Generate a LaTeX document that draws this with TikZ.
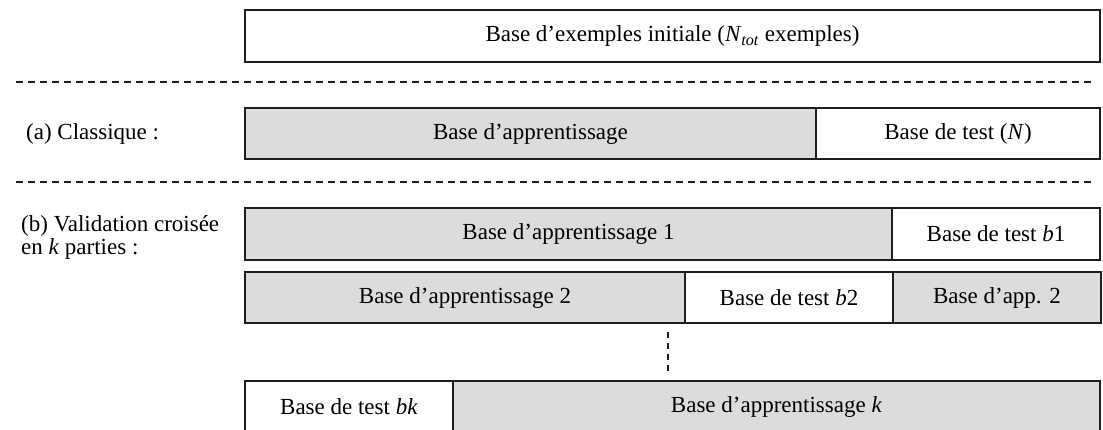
\documentclass[tikz,border=0pt]{standalone}
\usepackage{fontspec}
\setmainfont{Liberation Serif}
\definecolor{cellgray}{RGB}{220,220,220}
\definecolor{edge}{RGB}{30,30,30}
\begin{document}
\begin{tikzpicture}[x=1pt,y=-1pt,
  every node/.style={font=\fontsize{23}{26}\selectfont, inner sep=0pt},
  cell/.style={draw=edge, line width=1.4pt, minimum height=52, anchor=center},
  graycell/.style={cell, fill=cellgray},
  sepline/.style={draw=edge, line width=1.3pt, dash pattern=on 7pt off 5pt},
  gapline/.style={draw=edge, line width=1.3pt, dash pattern=on 6pt off 5pt}]
\clip (0,0) rectangle (1103,429);

% full data set
\node[cell, minimum width=855] (init) at (672.5,36)
  {Base d’exemples initiale (\textit{N}\textsubscript{\textit{tot}} exemples)};

% separators
\coordinate (s1a) at (16,82);  \coordinate (s1b) at (1095,82);
\coordinate (s2a) at (16,182); \coordinate (s2b) at (1092,182);
\draw[sepline] (s1a) -- (s1b);
\draw[sepline] (s2a) -- (s2b);

% (a) hold-out split
\node[anchor=base west] (lbla) at (26,139) {(a) Classique :};
\node[graycell, minimum width=571, minimum height=51] (aapp) at (530.5,133.5) {Base d’apprentissage};
\node[cell, minimum width=284, minimum height=51] (atest) at (958,133.5) {Base de test (\textit{N})};

% (b) k-fold cross-validation
\node[anchor=base west] (lblb1) at (21,231) {(b) Validation croisée};
\node[anchor=base west] (lblb2) at (21,254) {en \textit{k} parties :};

\node[graycell, minimum width=647] (b1app) at (568.5,234) {Base d’apprentissage 1};
\node[cell, minimum width=208] (b1test) at (996,234) {Base de test \textit{b}1};

\node[graycell, minimum width=440, minimum height=51] (b2app) at (465,297.5) {Base d’apprentissage 2};
\node[cell, minimum width=208, minimum height=51] (b2test) at (789,297.5) {Base de test \textit{b}2};
\node[graycell, minimum width=208, minimum height=51] (b2rest) at (997,297.5) {Base d’app. 2};

\coordinate (g1) at (668,332); \coordinate (g2) at (668,374);
\draw[gapline] (g1) -- (g2);

\node[cell, minimum width=208] (bktest) at (349,407) {Base de test \textit{bk}};
\node[graycell, minimum width=647] (bkapp) at (776.5,407) {Base d’apprentissage \textit{k}};
\end{tikzpicture}
\end{document}
